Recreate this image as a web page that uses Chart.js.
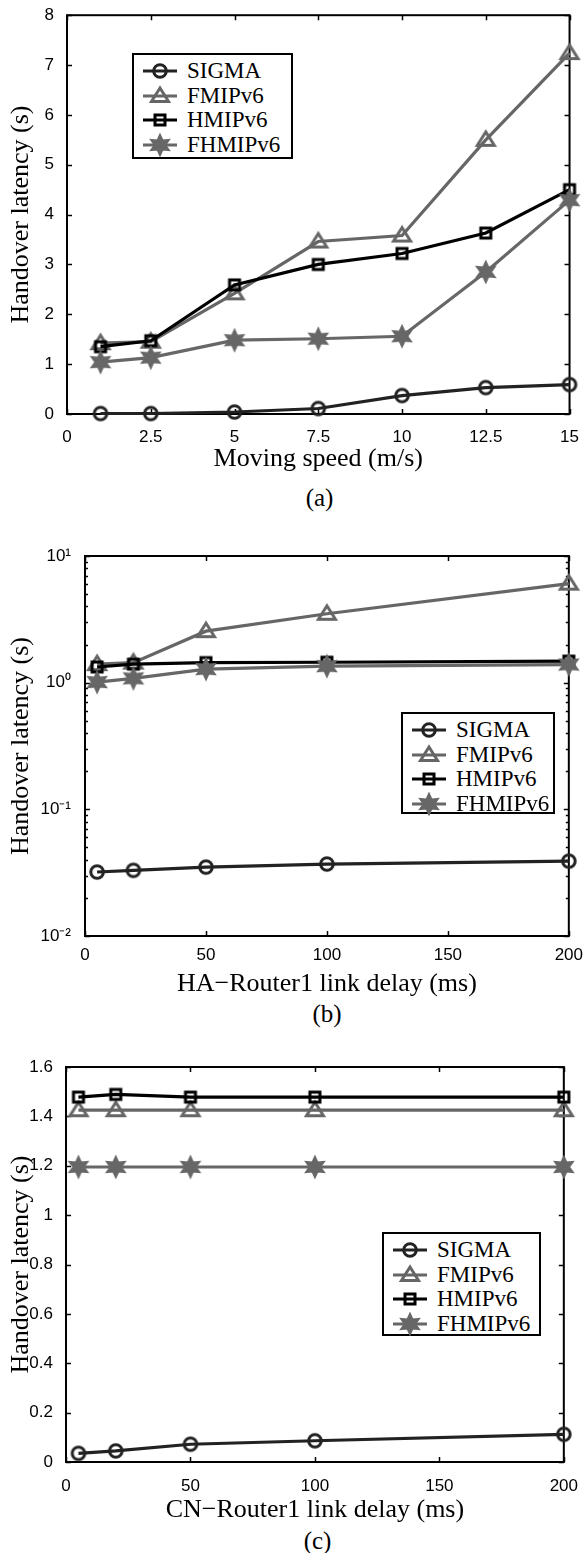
<!DOCTYPE html>
<html>
<head>
<meta charset="utf-8">
<script src="https://cdn.jsdelivr.net/npm/chart.js@4/dist/chart.umd.min.js"></script>
<style>
  body { margin: 0; background: #fff; }
  #page { position: relative; width: 584px; height: 1553px; overflow: hidden; }
  canvas.panel { position: absolute; left: 0; }
  .caption { position: absolute; text-align: center; font: 25px 'Liberation Serif', serif; line-height: 28px; }
  .legend { position: absolute; box-sizing: border-box; border: 2px solid #000; background: #fff; z-index: 2; }
  .legend .row { position: absolute; left: 0; height: 24px; white-space: nowrap; font: 23px 'Liberation Serif', serif; line-height: 24px; }
  .legend .row canvas { position: absolute; left: 7px; top: 0; }
  .legend .row span { position: absolute; left: 53px; top: 0; }
</style>
</head>
<body>
<div id="page">
  <canvas id="chart-a" class="panel" width="584" height="475" style="top:0px"></canvas>
  <div class="caption" style="left:67px;width:505px;top:484px">(a)</div>
  <canvas id="chart-b" class="panel" width="584" height="480" style="top:520px"></canvas>
  <div class="caption" style="left:85px;width:484px;top:1000px">(b)</div>
  <canvas id="chart-c" class="panel" width="584" height="486" style="top:1040px"></canvas>
  <div class="caption" style="left:66px;width:503px;top:1527px">(c)</div>
  <div id="legend-a" class="legend" style="left:132px;top:53px;width:161px;height:106px"></div>
  <div id="legend-b" class="legend" style="left:401px;top:712px;width:154px;height:102px"></div>
  <div id="legend-c" class="legend" style="left:382px;top:1232px;width:159px;height:104px"></div>
</div>
<script>
'use strict';

// ***** DATA *****

let seriesNames = ['SIGMA', 'FMIPv6', 'HMIPv6', 'FHMIPv6'];

// (a) moving speed
let speedA = [1, 2.5, 5, 7.5, 10, 12.5, 15];
let sigmaA = [0.01, 0.01, 0.04, 0.11, 0.37, 0.53, 0.59];
let fmipA = [1.42, 1.45, 2.42, 3.46, 3.58, 5.5, 7.24];
let hmipA = [1.35, 1.47, 2.59, 3.0, 3.22, 3.63, 4.5];
let fhmipA = [1.04, 1.13, 1.48, 1.51, 1.56, 2.85, 4.29];
let xTicksA = [0, 2.5, 5, 7.5, 10, 12.5, 15];
let yTicksA = [0, 1, 2, 3, 4, 5, 6, 7, 8];
let yLabelsA = ['0', '1', '2', '3', '4', '5', '6', '7', '8'];

// (b) HA-Router1 link delay, log axis
let delayB = [5, 20, 50, 100, 200];
let sigmaB = [0.032, 0.033, 0.035, 0.037, 0.039];
let fmipB = [1.40, 1.44, 2.55, 3.5, 6.05];
let hmipB = [1.33, 1.40, 1.44, 1.45, 1.48];
let fhmipB = [1.01, 1.08, 1.28, 1.35, 1.39];
let xTicksB = [0, 50, 100, 150, 200];
let yTicksB = [0.01, 0.1, 1, 10];
let yLabelsB = ['10\u207B\u00B2', '10\u207B\u00B9', '10\u2070', '10\u00B9'];

// (c) CN-Router1 link delay
let delayC = [5, 20, 50, 100, 200];
let sigmaC = [0.035, 0.045, 0.072, 0.086, 0.112];
let fmipC = [1.425, 1.425, 1.425, 1.425, 1.425];
let hmipC = [1.478, 1.489, 1.478, 1.478, 1.478];
let fhmipC = [1.195, 1.195, 1.195, 1.195, 1.195];
let xTicksC = [0, 50, 100, 150, 200];
let yTicksC = [0, 0.2, 0.4, 0.6, 0.8, 1, 1.2, 1.4, 1.6];
let yLabelsC = ['0', '0.2', '0.4', '0.6', '0.8', '1', '1.2', '1.4', '1.6'];

// ***** STYLES *****

let seriesColors = ['#222222', '#666666', '#000000', '#676767'];
let seriesShapes = ['circle', 'triangle', 'square', 'hexagram'];

Chart.defaults.font.family = "'Liberation Sans', Arial, sans-serif";
Chart.defaults.font.size = 17;
Chart.defaults.color = '#000';

// matlab style markers, drawn once and reused as pointStyle images
function makeMarker(shape, color){
  let c = document.createElement('canvas');
  c.width = 26;
  c.height = 26;
  let g = c.getContext('2d');
  g.strokeStyle = color;
  g.fillStyle = color;
  g.lineWidth = 3;
  g.beginPath();
  if(shape === 'circle'){
    g.arc(13, 13, 6.3, 0, Math.PI * 2);
  } else if(shape === 'triangle'){
    g.moveTo(13, 5);
    g.lineTo(21.5, 18.5);
    g.lineTo(4.5, 18.5);
    g.closePath();
  } else if(shape === 'square'){
    g.rect(8, 8, 10, 10);
  } else {
    g.lineWidth = 2.5;
    for(let k = 0; k < 12; k++){
      let ang = -Math.PI / 2 + k * Math.PI / 6;
      let r = k % 2 ? 4.8 : 9.5;
      let px = 13 + r * Math.cos(ang);
      let py = 13 + r * Math.sin(ang);
      if(k === 0){ g.moveTo(px, py); } else { g.lineTo(px, py); }
    }
    g.closePath();
    g.fill();
  }
  g.stroke();
  return c;
}

let markerImages = seriesShapes.map((s, i) => makeMarker(s, seriesColors[i]));

// box round the plot with inward ticks on all four sides
let boxPlugin = {
  id: 'matlabBox',
  beforeDatasetsDraw(chart){
    let ctx = chart.ctx;
    let a = chart.chartArea;
    let x = chart.scales.x;
    let y = chart.scales.y;
    ctx.save();
    ctx.strokeStyle = '#000';
    ctx.lineWidth = 1.5;
    ctx.beginPath();
    x.ticks.forEach(t => {
      let px = Math.round(x.getPixelForValue(t.value)) + 0.5;
      ctx.moveTo(px, a.bottom); ctx.lineTo(px, a.bottom - 5);
      ctx.moveTo(px, a.top); ctx.lineTo(px, a.top + 5);
    });
    y.ticks.forEach(t => {
      let py = Math.round(y.getPixelForValue(t.value)) + 0.5;
      ctx.moveTo(a.left, py); ctx.lineTo(a.left + 5, py);
      ctx.moveTo(a.right, py); ctx.lineTo(a.right - 5, py);
    });
    if(y.type === 'logarithmic'){
      for(let d = 0; d < y.ticks.length - 1; d++){
        for(let m = 2; m < 10; m++){
          let py = Math.round(y.getPixelForValue(y.ticks[d].value * m)) + 0.5;
          ctx.moveTo(a.left, py); ctx.lineTo(a.left + 3, py);
          ctx.moveTo(a.right, py); ctx.lineTo(a.right - 3, py);
        }
      }
    }
    ctx.stroke();
    ctx.lineWidth = 2;
    ctx.strokeRect(a.left, a.top, a.right - a.left, a.bottom - a.top);
    ctx.restore();
  }
};

function renderChart(id, xValues, allSeries, xTicks, yTicks, yLabels, xTitle, isLog, box){
  let datasets = allSeries.map((vals, i) => ({
    label: seriesNames[i],
    data: xValues.map((xv, j) => ({x: xv, y: vals[j]})),
    borderColor: seriesColors[i],
    backgroundColor: seriesColors[i],
    borderWidth: 3.2,
    pointStyle: markerImages[i],
    pointRadius: 10,
    tension: 0,
    clip: false,
    order: 3 - i
  }));

  return new Chart(document.getElementById(id), {
    type: 'line',
    data: { datasets: datasets },
    options: {
      responsive: false,
      animation: false,
      events: [],
      layout: { padding: { top: box.top, right: box.right, left: 0, bottom: 0 } },
      plugins: { legend: { display: false }, tooltip: { enabled: false } },
      scales: {
        x: {
          type: 'linear',
          min: xTicks[0],
          max: xTicks[xTicks.length - 1],
          grid: { display: false },
          border: { display: false },
          afterBuildTicks: s => { s.ticks = xTicks.map(v => ({value: v})); },
          afterFit: s => { s.height = box.xHeight; },
          ticks: { padding: box.xPad, maxRotation: 0, autoSkip: false, callback: v => String(v) },
          title: {
            display: true,
            text: xTitle,
            font: { family: "'Liberation Serif', serif", size: 26 },
            padding: { top: 0, bottom: 0 }
          }
        },
        y: {
          type: isLog ? 'logarithmic' : 'linear',
          min: yTicks[0],
          max: yTicks[yTicks.length - 1],
          grid: { display: false },
          border: { display: false },
          afterBuildTicks: s => { s.ticks = yTicks.map(v => ({value: v})); },
          afterFit: s => { s.width = box.yWidth; },
          ticks: { padding: box.yPad, autoSkip: false, callback: (v, i) => yLabels[i] },
          title: {
            display: true,
            text: 'Handover latency (s)',
            font: { family: "'Liberation Serif', serif", size: 26 },
            padding: { top: 6, bottom: 0 }
          }
        }
      }
    },
    plugins: [boxPlugin]
  });
}

function renderLegend(id){
  let el = document.getElementById(id);
  for(let i = 0; i < seriesNames.length; i++){
    let row = document.createElement('div');
    row.className = 'row';
    row.style.top = (4 + i * 24.5) + 'px';
    let icon = document.createElement('canvas');
    icon.width = 40;
    icon.height = 24;
    let g = icon.getContext('2d');
    g.strokeStyle = seriesColors[i];
    g.lineWidth = 3.2;
    g.beginPath();
    g.moveTo(2, 12);
    g.lineTo(36, 12);
    g.stroke();
    g.drawImage(markerImages[i], 19 - 13, 12 - 13);
    let label = document.createElement('span');
    label.textContent = seriesNames[i];
    row.appendChild(icon);
    row.appendChild(label);
    el.appendChild(row);
  }
}

// ***** RENDER *****

renderChart('chart-a', speedA, [sigmaA, fmipA, hmipA, fhmipA], xTicksA, yTicksA, yLabelsA,
  'Moving speed (m/s)', false, { top: 15, right: 12, yWidth: 67, xHeight: 61, xPad: 5, yPad: 5 });

renderChart('chart-b', delayB, [sigmaB, fmipB, hmipB, fhmipB], xTicksB, yTicksB, yLabelsB,
  'HA\u2212Router1 link delay (ms)', true, { top: 36, right: 15, yWidth: 85, xHeight: 64, xPad: 1, yPad: 6 });

renderChart('chart-c', delayC, [sigmaC, fmipC, hmipC, fhmipC], xTicksC, yTicksC, yLabelsC,
  'CN\u2212Router1 link delay (ms)', false, { top: 27, right: 15, yWidth: 66, xHeight: 64, xPad: 6, yPad: 5 });

renderLegend('legend-a');
renderLegend('legend-b');
renderLegend('legend-c');
</script>
</body>
</html>
